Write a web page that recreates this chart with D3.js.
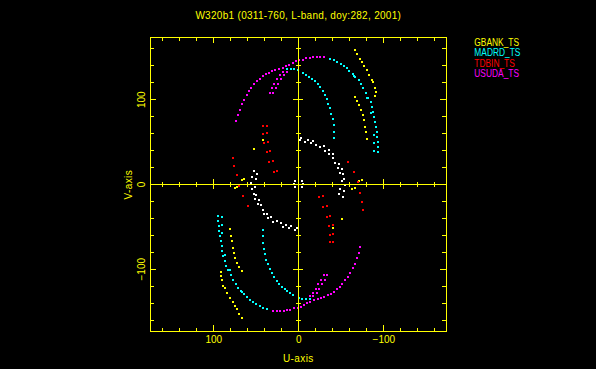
<!DOCTYPE html>
<html>
<head>
<meta charset="utf-8">
<script src="https://cdn.jsdelivr.net/npm/d3@7"></script>
<style>
  body { margin: 0; background: #000; }
  svg { display: block; }
  text { font-family: "Liberation Sans", Arial, sans-serif; }
</style>
</head>
<body>
<div id="chart"></div>
<script>
const title = 'W320b1 (0311-760, L-band, doy:282, 2001)';
const xLabel = 'U-axis';
const yLabel = 'V-axis';
const stations = ['GBANK_TS', 'MADRD_TS', 'TDBIN_TS', 'USUDA_TS'];
const labelTicks = [100, 0, -100];
const minorTicks = d3.range(-160, 161, 20);

// one half of each track, (u, v) in the plot units; the conjugate half (-u, -v) is added below
const gbank = [
  [-66.4, 157.8], [-69.4, 153.1], [-72.6, 147.6], [-74.9, 143.7], [-77.3, 139.0], [-80.5, 134.9],
  [-83.5, 128.7], [-86.7, 123.1], [-88.2, 120.0], [-90.2, 113.7], [-91.4, 108.3], [-90.6, 104.3],
  [-66.4, 103.1], [-69.4, 98.3], [-71.8, 93.3], [-74.1, 87.4], [-76.1, 81.5], [-77.3, 75.6],
  [-78.5, 67.7], [-79.6, 61.0], [-80.5, 53.1],
  [51.8, 41.7], [41.2, 52.3], [63.5, 6.3], [66.7, 4.5], [-75.0, 5.0], [-71.8, 3.2]
];
const madrd = [
  [13.6, 136.1], [8.9, 135.8], [4.7, 135.4], [0.7, 135.0], [-5.9, 131.4], [-9.4, 129.0],
  [-12.9, 126.7], [-16.1, 124.0], [-19.6, 121.2], [-22.8, 118.1], [-25.5, 114.2], [-28.7, 109.8],
  [-31.1, 105.1], [-33.4, 100.4], [-35.3, 94.8], [-37.6, 89.4], [-38.8, 83.0], [-40.5, 76.4],
  [-41.6, 69.3], [-42.0, 61.7], [-42.0, 54.3],
  [-37.3, 147.6], [-42.0, 146.0], [-45.2, 144.4], [-49.9, 142.0], [-53.8, 139.3], [-57.0, 136.5],
  [-60.0, 133.4], [-64.0, 130.2], [-67.1, 126.0], [-71.1, 122.8], [-73.4, 117.7], [-76.5, 113.0],
  [-79.6, 107.1], [-82.4, 101.9], [-85.2, 96.5], [-86.7, 90.9], [-88.2, 85.4], [-89.4, 79.5],
  [-90.2, 73.6], [-91.4, 67.7], [-92.2, 61.7], [-92.9, 55.8], [-93.8, 49.9], [-94.1, 44.0],
  [-94.1, 38.1],
  [-66.0, 127.5], [-80.5, 101.2], [-86.0, 84.0], [-89.4, 57.9], [-89.4, 48.0], [-89.4, 38.5]
];
const tdbin = [
  [41.2, 68.5], [37.2, 68.8], [41.2, 59.4], [37.2, 59.9], [40.4, 48.4], [35.6, 49.6],
  [37.2, 37.8], [33.3, 38.6], [34.1, 26.3], [29.4, 27.5], [28.6, 14.5], [24.7, 15.3],
  [76.5, 31.1], [75.3, 20.9], [72.5, 10.3], [69.8, -2.0], [65.4, -14.5], [58.8, -26.3]
];
const usuda = [
  [72.9, 74.0], [70.9, 81.1], [68.9, 87.7], [66.2, 94.1], [63.9, 99.5], [60.7, 104.7],
  [58.4, 109.4], [55.3, 113.7], [51.8, 117.7], [48.9, 121.2], [45.1, 124.3], [41.5, 127.2],
  [38.0, 129.5], [34.5, 131.4], [30.6, 133.1], [27.1, 134.6], [23.1, 135.4], [18.5, 137.5],
  [14.1, 139.5], [10.6, 141.0], [6.6, 143.0], [3.1, 144.8], [-0.8, 146.5], [-5.2, 146.8],
  [-9.4, 148.4], [-13.4, 148.4], [-17.3, 149.9], [-21.6, 149.5], [-25.5, 149.9], [-30.2, 149.5],
  [33.3, 107.1], [29.8, 107.1], [30.9, 113.0], [26.2, 113.0], [28.2, 118.4], [23.5, 118.4],
  [24.7, 123.6], [20.7, 123.6], [21.5, 128.3], [16.8, 128.3], [17.6, 132.2], [13.6, 132.2]
];
const other = [
  [-2.0, 51.6], [-3.5, 54.0], [-8.2, 49.2], [-11.4, 51.6], [-14.9, 48.4], [-17.6, 50.4],
  [-20.8, 45.7], [-25.5, 43.7], [-30.2, 44.5], [-31.8, 39.0], [-35.8, 40.5], [-36.5, 35.1],
  [-40.5, 35.8], [-41.2, 30.3], [-43.5, 24.8], [-47.5, 24.0], [-46.7, 18.9], [-51.4, 17.7],
  [-49.4, 13.0], [-52.2, 11.5], [-54.1, 6.3], [-51.4, 3.5], [-55.3, -1.5], [-49.4, -5.5],
  [-54.1, -8.6], [-48.2, -11.5], [-52.2, -15.7],
  [4.5, 3.0], [5.2, 0.0], [4.5, -3.0]
];

class UvPlot {
  constructor(options) {
    this.width = 596;
    this.height = 369;
    this.box = { left: 150, right: 445.8, top: 37, bottom: 331 };
    this.yellow = '#ffff00';
    Object.assign(this, options);
    this._init();
  }

  render(series) {
    series.forEach((s) => {
      // visibilities are Hermitian: every (u, v) also appears as (-u, -v)
      const pts = s.data.concat(s.data.map((d) => [-d[0], -d[1]]));
      this.chart.append('g')
        .selectAll('rect')
        .data(pts)
        .enter().append('rect')
        .attr('x', (d) => Math.round(this.x(d[0])) - 1)
        .attr('y', (d) => Math.round(this.y(d[1])) - 1)
        .attr('width', 2)
        .attr('height', 2)
        .attr('shape-rendering', 'crispEdges')
        .style('fill', s.color);
    });
  }

  _init() {
    this.svg = d3.select(this.target)
      .append('svg')
      .attr('width', this.width)
      .attr('height', this.height)
      .style('background', '#000');
    this.chart = this.svg.append('g');

    this.x = d3.scaleLinear().domain([174.5, -173.5]).range([this.box.left, this.box.right]);
    this.y = d3.scaleLinear().domain([173.5, -173.5]).range([this.box.top, this.box.bottom]);

    this._renderAxis();
    this._renderText();
  }

  _tickLen(d, minor, major) {
    return d % 100 === 0 ? major : minor;
  }

  _renderAxis() {
    const b = this.box;
    const axes = this.svg.append('g')
      .attr('class', 'axes')
      .attr('shape-rendering', 'crispEdges');

    axes.append('rect')
      .attr('x', b.left + 0.5)
      .attr('y', b.top + 0.5)
      .attr('width', b.right - b.left)
      .attr('height', b.bottom - b.top)
      .attr('fill', 'none')
      .attr('stroke', this.yellow);

    const frame = [
      { axis: d3.axisTop(this.x), t: `translate(0, ${b.bottom})`, attr: 'y2', sign: -1 },
      { axis: d3.axisBottom(this.x), t: `translate(0, ${b.top})`, attr: 'y2', sign: 1 },
      { axis: d3.axisRight(this.y), t: `translate(${b.left}, 0)`, attr: 'x2', sign: 1 },
      { axis: d3.axisLeft(this.y), t: `translate(${b.right}, 0)`, attr: 'x2', sign: -1 }
    ];
    frame.forEach((f) => {
      const g = axes.append('g')
        .attr('transform', f.t)
        .call(f.axis.tickValues(minorTicks).tickFormat('').tickSizeOuter(0));
      g.select('.domain').remove();
      g.selectAll('.tick line')
        .attr(f.attr, (d) => f.sign * this._tickLen(d, 3.5, 6))
        .attr('stroke', this.yellow);
    });

    // axes through the origin, ticks on both sides
    const hx = axes.append('g')
      .attr('transform', `translate(0, ${Math.round(this.y(0))})`)
      .call(d3.axisBottom(this.x).tickValues(minorTicks).tickFormat('').tickSizeOuter(0));
    hx.selectAll('.tick line')
      .attr('y1', (d) => -this._tickLen(d, 2.5, 5))
      .attr('y2', (d) => this._tickLen(d, 2.5, 5));

    const vy = axes.append('g')
      .attr('transform', `translate(${Math.round(this.x(0))}, 0)`)
      .call(d3.axisRight(this.y).tickValues(minorTicks).tickFormat('').tickSizeOuter(0));
    vy.selectAll('.tick line')
      .attr('x1', (d) => -this._tickLen(d, 2.5, 5))
      .attr('x2', (d) => this._tickLen(d, 2.5, 5));

    axes.selectAll('.domain, .tick line').attr('stroke', this.yellow);

    // tick labels
    const xl = this.svg.append('g')
      .attr('transform', `translate(0, ${b.bottom})`)
      .call(d3.axisBottom(this.x).tickValues(labelTicks).tickSize(0).tickFormat(d3.format('d')));
    xl.select('.domain').remove();
    xl.selectAll('text')
      .attr('y', 12.3)
      .attr('dy', null)
      .attr('fill', this.yellow)
      .style('font-size', '10px')
      .text((d) => String(d).replace('-', '\u2212'));

    const yl = this.svg.append('g')
      .attr('transform', `translate(${b.left}, 0)`)
      .call(d3.axisLeft(this.y).tickValues(labelTicks).tickSize(0).tickFormat(d3.format('d')));
    yl.select('.domain').remove();
    yl.selectAll('text')
      .attr('x', null)
      .attr('dy', null)
      .attr('text-anchor', 'middle')
      .attr('transform', 'translate(-5, 0) rotate(-90)')
      .attr('fill', this.yellow)
      .style('font-size', '10px')
      .text((d) => String(d).replace('-', '\u2212'));
  }

  _renderText() {
    const t = this.svg.append('g').attr('fill', this.yellow).style('font-size', '10px');

    t.append('text')
      .attr('x', 298.3)
      .attr('y', 19)
      .attr('text-anchor', 'middle')
      .style('letter-spacing', '0.3px')
      .text(title);

    t.append('text')
      .attr('x', 298.3)
      .attr('y', 361.7)
      .attr('text-anchor', 'middle')
      .style('letter-spacing', '0.4px')
      .text(xLabel);

    t.append('text')
      .attr('transform', 'translate(131.7, 184.7) rotate(-90)')
      .attr('text-anchor', 'middle')
      .style('letter-spacing', '0.4px')
      .text(yLabel);
  }

  legend(colors) {
    this.svg.append('g')
      .selectAll('text')
      .data(stations)
      .enter().append('text')
      .attr('transform', (d, i) => `translate(474.3, ${45.7 + i * 10.4}) scale(0.84, 1)`)
      .attr('fill', (d, i) => colors[i])
      .style('font-size', '10px')
      .text((d) => d);
  }
}

const colors = ['#ffff00', '#00ffff', '#ff0000', '#ff00ff'];
const plot = new UvPlot({ target: '#chart' });
plot.render([
  { data: other, color: '#ffffff' },
  { data: madrd, color: colors[1] },
  { data: gbank, color: colors[0] },
  { data: usuda, color: colors[3] },
  { data: tdbin, color: colors[2] }
]);
plot.legend(colors);
</script>
</body>
</html>
